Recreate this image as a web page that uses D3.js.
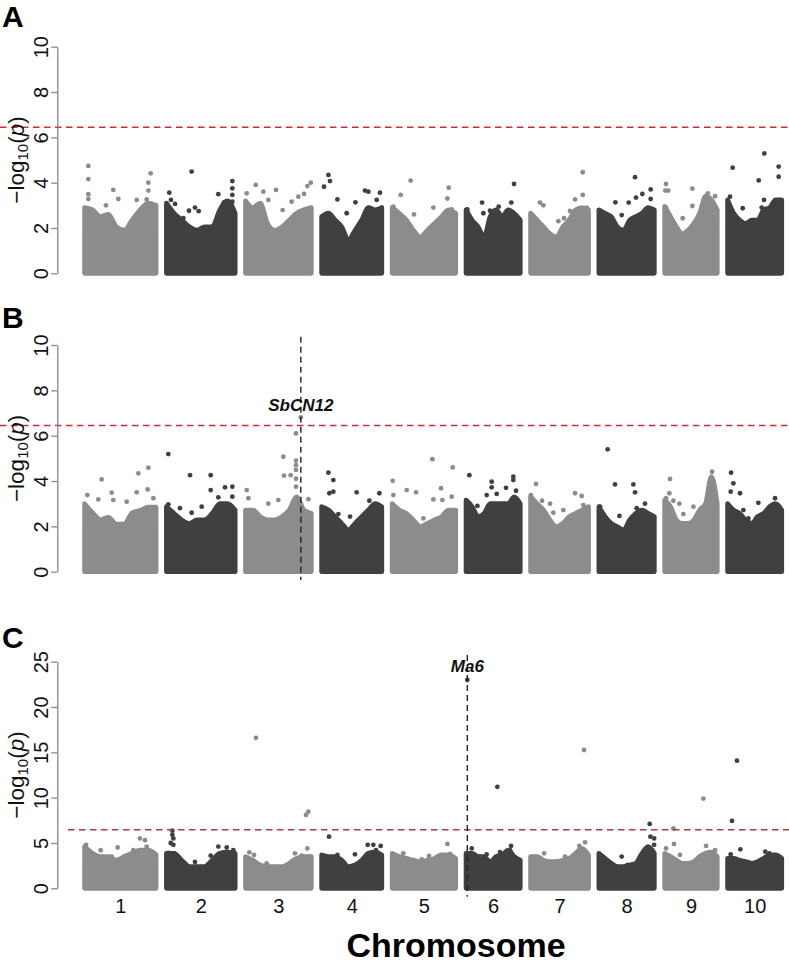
<!DOCTYPE html>
<html><head><meta charset="utf-8">
<script src="https://cdn.jsdelivr.net/npm/d3@7"></script>
<style>body{margin:0;background:#fff}svg{display:block;font-family:"Liberation Sans",Arial,Helvetica,sans-serif}</style>
</head><body>
<svg id="chart" width="789" height="965"></svg>
<script>
// ---------------- data ----------------
const chromosomes = ["1","2","3","4","5","6","7","8","9","10"];
const chrLengthsMb = [80.88, 77.74, 74.39, 68.03, 71.85, 61.28, 65.5, 62.69, 59.42, 61.23];
const panelLetters = ["A","B","C"];
const yTicksAB = [0,2,4,6,8,10];
const yTicksC = [0,5,10,15,20,25];
const threshold = 6.45;

// upper envelope of the dense SNP cloud, 10 evenly spaced samples per chromosome
const envelopeA = [
  [2.9,2.8,2.5,2.6,2.05,1.9,2.35,2.8,3.1,3.0],
  [3.1,2.65,2.35,2.05,1.9,2.05,2.05,2.8,3.2,2.65],
  [3.2,2.9,3.1,2.2,1.9,2.05,2.35,2.65,2.8,2.9],
  [2.5,2.65,2.35,2.05,1.47,1.9,2.35,2.9,2.8,2.9],
  [2.9,2.65,2.35,1.9,1.6,1.9,2.2,2.5,2.8,2.65],
  [2.8,2.35,2.05,1.6,2.5,2.8,2.5,2.8,2.65,2.35],
  [2.65,2.35,2.05,1.75,1.6,2.05,2.35,2.8,2.9,2.8],
  [2.8,2.65,2.5,2.05,1.9,2.35,2.5,2.65,2.9,2.8],
  [2.95,2.5,2.05,1.75,1.9,2.2,2.65,3.4,3.24,2.8],
  [3.24,2.65,2.35,2.2,2.35,2.35,2.8,2.9,3.24,3.24]
];
const envelopeB = [
  [3.0,2.6,2.3,2.4,2.1,2.1,2.6,2.7,2.85,2.85],
  [2.87,2.57,2.28,2.13,2.28,2.28,2.57,3.0,3.0,2.72],
  [2.72,2.72,2.43,2.28,2.28,2.43,2.72,3.3,2.72,2.57],
  [2.87,2.72,2.43,2.13,1.84,2.13,2.43,2.72,3.0,2.87],
  [3.0,2.72,2.57,2.28,1.99,2.13,2.28,2.43,2.72,2.72],
  [3.16,2.87,2.43,2.57,3.0,3.0,3.0,3.0,3.3,3.0],
  [3.31,3.0,2.72,2.28,1.99,2.13,2.43,2.57,2.72,2.87],
  [2.87,2.43,2.13,1.99,1.84,2.28,2.57,2.72,2.57,2.43],
  [3.16,2.87,2.28,2.13,2.13,2.28,2.72,3.0,4.19,3.0],
  [3.0,2.72,2.57,2.28,2.13,2.43,2.57,2.87,3.0,2.72]
];
const envelopeC = [
  [4.6,3.86,3.5,3.5,3.1,3.5,3.86,4.2,4.2,3.7],
  [3.86,3.86,3.1,2.4,2.4,2.4,3.1,3.86,4.0,3.86],
  [3.5,3.1,2.57,2.4,2.4,2.4,2.76,3.3,3.5,3.5],
  [3.68,3.5,3.5,3.1,2.4,2.57,3.1,3.86,4.0,3.68],
  [3.86,3.5,3.3,3.1,2.94,3.1,3.3,3.68,3.68,3.3],
  [3.86,3.86,3.5,3.5,2.94,3.5,3.68,4.2,3.5,3.1],
  [3.5,3.5,3.1,2.94,2.94,3.1,3.3,3.86,4.4,3.68],
  [3.86,3.3,2.76,2.4,2.4,2.57,2.76,3.86,4.6,3.86],
  [3.86,3.5,3.1,2.76,2.76,2.94,3.5,3.86,4.0,3.5],
  [3.3,3.3,3.1,2.94,2.76,2.94,3.3,3.68,3.68,3.3]
];

// individual SNPs standing out of the cloud: [chromosome, position (Mb), -log10(p)]
const pointsA = [
  [1,4.2,4.74],[1,4.2,4.16],[1,4.2,3.49],[1,4.2,3.28],[1,32.5,3.68],[1,38.2,3.28],[1,74.8,4.41],[1,72.2,4.0],[1,72.2,3.65],[1,70.3,3.26],[1,59,3.24],[1,24.2,3.0],
  [2,28.5,4.49],[2,3.2,3.56],[2,5.1,3.24],[2,9.7,3.06],[2,19.1,2.43],[2,25.5,2.76],[2,32.3,2.9],[2,36.5,2.74],[2,58.7,3.49],[2,65.2,3.13],[2,74.6,4.07],[2,74.6,3.75],[2,74.6,3.46],[2,74.6,3.16],
  [3,11.5,3.9],[3,1.3,3.53],[3,20.1,3.6],[3,34.5,3.68],[3,73.8,4.0],[3,70,3.85],[3,66.2,3.5],[3,59.8,3.38],[3,52.2,3.16],[3,42,2.79],[3,25.8,3.24],
  [4,7.6,4.34],[4,9.4,4.07],[4,2.6,3.82],[4,17.8,3.26],[4,38.2,3.13],[4,49.1,3.65],[4,52.9,3.6],[4,66,3.56],[4,62.3,3.24],[4,28.3,2.65],
  [5,20.9,4.09],[5,9.6,3.46],[5,1.3,2.94],[5,24.7,2.6],[5,46.6,2.9],[5,64,3.78],[5,62.5,3.3],[5,67.4,2.82],
  [6,54.3,3.94],[6,18.1,3.12],[6,51.2,3.12],[6,27.1,2.76],[6,19.6,2.65],[6,36.9,2.94],[6,1.4,2.82],
  [7,59,4.46],[7,59,3.46],[7,50.3,3.26],[7,63.5,2.9],[7,10.6,3.12],[7,14.4,3.0],[7,31.4,2.3],[7,37.8,2.43],[7,44.6,2.75],
  [8,40.9,4.24],[8,18.6,3.13],[8,33.7,3.12],[8,42,3.34],[8,49.2,3.5],[8,58.6,3.7],[8,58.6,3.28],[8,25.8,2.57],
  [9,1.5,3.94],[9,4.1,3.65],[9,0.7,3.65],[9,31.3,3.74],[9,31.3,2.97],[9,1.5,2.9],[9,20.4,2.43],[9,57,3.4],[9,48.7,3.53],
  [10,41.6,5.29],[10,5.7,4.66],[10,57.8,4.71],[10,57.8,4.26],[10,35.2,4.1],[10,2.7,3.38],[10,17.1,2.87],[10,41.2,3.24],[10,38.6,2.9],[10,44.2,2.8]
];
const pointsB = [
  [1,19.3,4.07],[1,60.8,4.34],[1,72.2,4.59],[1,71.4,3.63],[1,59,3.5],[1,30.7,3.49],[1,32.5,3.16],[1,3.1,3.38],[1,15.5,3.19],[1,47.6,3.09],[1,77.9,3.24],
  [2,2.1,5.19],[2,26.7,4.26],[2,50.1,4.26],[2,50.1,3.6],[2,66.3,3.72],[2,74.6,3.75],[2,74.6,3.31],[2,58.7,3.28],[2,2.1,2.97],[2,15.3,2.8],[2,28.5,2.6],[2,39.9,2.87],
  [3,62.6,6.81],[3,57.1,6.1],[3,57.1,4.9],[3,57.1,4.7],[3,57.1,4.49],[3,57.1,4.1],[3,57.1,3.75],[3,42.8,5.07],[3,43.6,4.24],[3,51.1,4.26],[3,37.1,3.16],[3,1.3,3.6],[3,3.2,3.24],[3,71.1,3.2],[3,25.8,3.0],
  [4,7.6,4.37],[4,13.2,4.04],[4,13.2,3.53],[4,8.7,3.46],[4,39.6,3.5],[4,54,3.13],[4,65.3,3.46],[4,32.1,2.43],[4,18.9,2.54],
  [5,45.5,4.96],[5,68.5,4.6],[5,0.55,4.01],[5,1.3,3.38],[5,16.4,3.6],[5,27,3.5],[5,55.3,3.68],[5,46.6,3.19],[5,56.8,3.16],[5,67.4,3.31],[5,35.3,2.35],
  [6,3.7,4.26],[6,29,3.97],[6,53.5,4.19],[6,53.5,4.04],[6,45.2,3.7],[6,56.6,3.57],[6,23.3,3.38],[6,29,3.72],[6,34.7,3.43],[6,12.8,2.9],
  [7,6.1,3.87],[7,0.3,3.38],[7,12.9,3.13],[7,22,3.0],[7,50.3,3.46],[7,57.8,3.34],[7,37,2.72],[7,25.7,2.6],[7,59.7,2.94],
  [8,9.9,5.4],[8,18.2,3.85],[8,39,3.85],[8,40.9,3.5],[8,1.3,2.87],[8,23.2,2.46],[8,42.8,2.8],[8,52.2,3.0],
  [9,53.6,4.41],[9,53.6,3.97],[9,53.6,3.6],[9,6,4.09],[9,5.3,3.46],[9,1.5,3.24],[9,9.8,3.13],[9,16.6,3.0],[9,32.5,2.87],[9,21.1,2.54],
  [10,3.9,4.37],[10,6.5,3.9],[10,3.5,3.53],[10,14,3.46],[10,34.8,3.04],[10,53.7,3.24],[10,17.8,2.72],[10,23.5,2.35]
];
const pointsC = [
  [1,62.7,5.5],[1,68.4,5.3],[1,70.3,4.6],[1,37.4,4.5],[1,55.2,4.2],[1,18.2,4.2],[1,1.6,4.8],[1,79.7,3.6],[1,30.7,3.5],
  [2,6.7,6.36],[2,6.7,5.9],[2,7.8,5.5],[2,7.8,4.8],[2,8.5,3.86],[2,2.1,3.9],[2,32.3,2.9],[2,50.1,3.6],[2,58.7,4.6],[2,68.2,4.5],[2,75.7,4.2],[2,4.8,5.0],
  [3,11.8,16.6],[3,71.1,8.45],[3,68.5,8.1],[3,70,4.4],[3,4.3,3.97],[3,9.6,3.68],[3,56,3.86],[3,63.6,3.6],[3,73,3.5],[3,23.9,2.76],
  [4,8.3,5.7],[4,37.7,3.75],[4,52.1,4.8],[4,58.5,4.8],[4,66.8,4.67],[4,61.5,4.2],[4,17.8,3.68],[4,13.2,3.1],
  [5,62.5,4.9],[5,65.5,3.8],[5,54.2,3.57],[5,12.6,3.86],[5,33.4,3.2],[5,41.7,3.57],
  [6,1.4,22.98],[6,35.4,11.2],[6,50.9,4.67],[6,49.8,4.2],[6,23.3,3.75],[6,15,3.5],[6,6.4,4.4],[6,38.4,4.0],
  [7,60.5,15.26],[7,61.6,5.07],[7,55.2,4.67],[7,59,4.04],[7,15.2,3.86],[7,8.8,3.3],[7,39,3.5],[7,28.4,2.94],
  [8,57.5,7.1],[8,58.3,5.7],[8,62.5,5.5],[8,62.5,4.8],[8,54.5,4.3],[8,25.8,3.5],[8,32.6,2.57],[8,43.9,2.57],
  [9,43.8,9.9],[9,9.8,6.6],[9,10.5,4.9],[9,46.8,4.67],[9,1.5,4.4],[9,17.3,3.68],[9,57,4.2],
  [10,10.6,14.08],[10,5,7.43],[10,14.4,4.3],[10,3.5,3.75],[10,47.3,3.86],[10,42.7,4.04],[10,18.9,2.57]
];
const annotations = [null, {label:"SbCN12", chr:3, pos:62.6}, {label:"Ma6", chr:6, pos:1.4}];

// ---------------- layout ----------------
const svg = d3.select("#chart");
const font = '"Liberation Sans",Arial,Helvetica,sans-serif';
const lightGrey = "#8c8c8c", darkGrey = "#404040";
const gapMb = 11.82;
const offsets = [];
let acc = 0;
chrLengthsMb.forEach((L,i)=>{ offsets.push(acc); acc += L + (i < chrLengthsMb.length-1 ? gapMb : 0); });
const x = d3.scaleLinear().domain([0, acc]).range([84.6, 781.7]);
const gx = (chr, pos) => x(offsets[chr-1] + pos);
const r = 2.4;
const axisX = 57.3;

const panels = [
  {letter:"A", top:46.7, bottom:273.3, max:10, ticks:yTicksAB, env:envelopeA, pts:pointsA, letterY:27, thrColor:"#d42a32", thrX0:0, vline:null},
  {letter:"B", top:345, bottom:571.7, max:10, ticks:yTicksAB, env:envelopeB, pts:pointsB, letterY:328, thrColor:"#d42a32", thrX0:0, vline:[336.7,580], labelY:410.7},
  {letter:"C", top:661.7, bottom:888.3, max:25, ticks:yTicksC, env:envelopeC, pts:pointsC, letterY:648, thrColor:"#a83c40", thrX0:68, vline:[655,896.7], labelY:671.7}
];

panels.forEach((p, pi) => {
  const y = d3.scaleLinear().domain([0, p.max]).range([p.bottom, p.top]);
  const g = svg.append("g");

  // dense clouds
  p.env.forEach((vals, ci) => {
    const L = chrLengthsMb[ci];
    const col = ci % 2 === 0 ? lightGrey : darkGrey;
    const pts = vals.map((v,i)=>[i/(vals.length-1)*L, v]);
    const area = d3.area().x(d=>gx(ci+1,d[0])).y0(y(0)).y1(d=>y(d[1])).curve(d3.curveMonotoneX);
    g.append("path").attr("d", area(pts)).attr("fill", col)
      .attr("stroke", col).attr("stroke-width", 2*r).attr("stroke-linejoin","round");
  });
  // individual points
  g.selectAll("circle.snp").data(p.pts).join("circle")
    .attr("cx", d=>gx(d[0], d[1])).attr("cy", d=>y(d[2])).attr("r", r)
    .attr("fill", d=> d[0] % 2 === 1 ? lightGrey : darkGrey);

  // threshold
  g.append("line").attr("x1", p.thrX0).attr("x2", 789).attr("y1", y(threshold)).attr("y2", y(threshold))
    .attr("stroke", p.thrColor).attr("stroke-width", 1.5).attr("stroke-dasharray","6.5,4.5");

  // annotation
  const ann = annotations[pi];
  if (ann) {
    const ax = gx(ann.chr, ann.pos);
    g.append("line").attr("x1", ax).attr("x2", ax).attr("y1", p.vline[0]).attr("y2", p.vline[1])
      .attr("stroke", "#222").attr("stroke-width", 1.4).attr("stroke-dasharray","6,4");
    g.append("text").attr("x", ax).attr("y", p.labelY).attr("text-anchor","middle")
      .attr("font-size", 17).attr("font-weight","bold").attr("font-style","italic").attr("fill","#111")
      .text(ann.label);
  }

  // y axis
  const axis = d3.axisLeft(y).tickValues(p.ticks).tickSize(6).tickSizeOuter(0);
  const ag = svg.append("g").attr("transform", `translate(${axisX},0)`).call(axis);
  ag.select(".domain").attr("stroke", "#888").attr("stroke-width", 1.3);
  ag.selectAll(".tick line").attr("stroke", "#888").attr("stroke-width", 1.3);
  ag.selectAll(".tick text").attr("transform","rotate(-90)").attr("x", 0).attr("y", -9.8).attr("dy", 0)
    .attr("text-anchor","middle").attr("font-size", 20).attr("font-family", font).attr("fill","#111");

  // y label
  const yl = svg.append("text").attr("transform", `translate(23.5,${(p.top+p.bottom)/2}) rotate(-90)`)
    .attr("text-anchor","middle").attr("font-size", 22.5).attr("font-family", font).attr("fill","#111");
  yl.append("tspan").text("\u2212log");
  yl.append("tspan").attr("font-size", 15).attr("dy", 4).text("10");
  yl.append("tspan").attr("dy", -4).text("(");
  yl.append("tspan").attr("font-style","italic").text("p");
  yl.append("tspan").text(")");

  // panel letter
  svg.append("text").attr("x", 2).attr("y", p.letterY).attr("font-size", 30).attr("font-weight","bold")
    .attr("font-family", font).attr("fill","#000").text(p.letter);
});

// chromosome labels
const centers = chromosomes.map((c,i)=> offsets[i] + chrLengthsMb[i]/2);
const xAxis = d3.axisBottom(x).tickValues(centers).tickFormat((d,i)=>chromosomes[i]).tickSize(0).tickPadding(0);
const xg = svg.append("g").attr("transform","translate(0,898)").call(xAxis);
xg.select(".domain").remove();
xg.selectAll(".tick text").attr("font-size", 20).attr("font-family", font).attr("fill","#111").attr("dy", "0.75em");

svg.append("text").attr("x", 456).attr("y", 957).attr("text-anchor","middle")
  .attr("font-size", 34).attr("font-weight","bold").attr("font-family", font).attr("fill","#000").text("Chromosome");
</script>
</body></html>
